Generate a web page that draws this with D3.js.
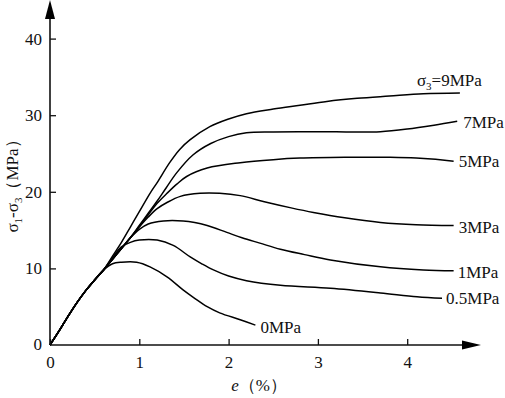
<!DOCTYPE html>
<html>
<head>
<meta charset="utf-8">
<script src="https://cdn.jsdelivr.net/npm/d3@7"></script>
<style>
  body { margin: 0; background: #fff; }
  text { font-family: "Liberation Serif", "Times New Roman", serif; fill: #111; }
</style>
</head>
<body>
<div id="chart"></div>
<script>
// strain e (%) vs deviator stress (MPa)
const xTicks = [0, 1, 2, 3, 4]
const yTicks = [0, 10, 20, 30, 40]

const rise = [[0,0],[0.1,1.8],[0.2,3.7],[0.3,5.5],[0.4,7.1],[0.5,8.5],[0.6,9.8]]

const s0 = [[0.7,10.6],[0.8,10.8],[0.97,10.8],[1.12,10.2],[1.31,8.9],[1.49,7.2],[1.62,6.1],[1.76,5.0],
  [1.9,4.2],[2.13,3.3],[2.3,2.6]]
const s05 = [[0.7,11.4],[0.8,12.8],[0.9,13.4],[1.0,13.7],[1.2,13.7],[1.38,13.0],[1.57,11.5],[1.7,10.6],
  [1.83,9.8],[2.0,9.0],[2.2,8.4],[2.58,7.8],[3.14,7.4],[3.7,6.8],[4.11,6.3],[4.39,6.1]]
const s1 = [[0.7,11.2],[0.8,12.6],[0.9,14.0],[1.0,15.1],[1.1,15.8],[1.27,16.2],[1.49,16.2],[1.62,16.0],
  [1.76,15.6],[1.98,14.7],[2.15,14.0],[2.35,13.3],[2.58,12.5],[2.85,11.8],[3.14,11.1],[3.7,10.2],
  [4.18,9.8],[4.52,9.7]]
const s3 = [[0.7,11.2],[0.8,12.6],[0.9,14.0],[1.0,15.4],[1.1,16.7],[1.2,17.8],[1.31,18.6],[1.46,19.4],
  [1.68,19.8],[1.9,19.8],[2.13,19.5],[2.4,18.7],[2.7,17.9],[2.95,17.3],[3.3,16.6],[3.7,16.0],
  [4.1,15.7],[4.52,15.6]]
const s5 = [[0.7,11.2],[0.8,12.6],[0.9,14.0],[1.0,15.5],[1.1,17.0],[1.2,18.5],[1.31,19.8],[1.42,21.0],
  [1.53,22.0],[1.76,23.1],[2.13,23.8],[2.5,24.2],[2.8,24.4],[3.3,24.5],[3.8,24.5],[4.1,24.4],[4.52,24.0]]
const s7 = [[0.7,11.2],[0.8,12.6],[0.9,14.0],[1.0,15.6],[1.1,17.2],[1.2,18.8],[1.3,20.5],[1.42,22.5],
  [1.6,24.8],[1.8,26.3],[2.0,27.2],[2.2,27.7],[2.5,27.8],[3.0,27.85],[3.4,27.8],[3.7,27.85],[4.0,28.2],
  [4.3,28.7],[4.56,29.2]]
const s9 = [[0.7,11.6],[0.8,13.4],[0.9,15.4],[1.0,17.4],[1.12,19.8],[1.2,21.2],[1.34,23.8],[1.45,25.5],
  [1.57,26.8],[1.79,28.5],[2.0,29.5],[2.2,30.2],[2.5,30.8],[2.8,31.3],[3.1,31.8],[3.44,32.2],[3.8,32.5],
  [4.18,32.8],[4.59,32.9]]

const curves = [s0, s05, s1, s3, s5, s7, s9]
const curveLabels = ["0MPa", "0.5MPa", "1MPa", "3MPa", "5MPa", "7MPa", "=9MPa"]
// label nudge from the curve end, in px
const labelNudge = [[5,8],[4,6],[4,7],[5,7],[5,6],[6,7],[-43,-7]]

drawChart("#chart")

function drawChart(id){
  const canvas = createCanvas()
  const svg = addSvg(id, canvas)
  const sc = addScales(canvas)
  addCurves(svg, sc)
  addAxes(svg, sc, canvas)
  addCurveLabels(svg, sc)
  addAxisLabels(svg)
}

function createCanvas(){
  return { width: 505, height: 398, x0: 50, x4: 407.2, y0: 345, y40: 38.6, xEnd: 481, yEnd: 0 }
}

function addSvg(id, canvas){
  return d3.select(id).append("svg")
    .attr("width", canvas.width).attr("height", canvas.height)
}

function addScales(canvas){
  const xScale = d3.scaleLinear().domain([0, 4]).range([canvas.x0, canvas.x4])
  const yScale = d3.scaleLinear().domain([0, 40]).range([canvas.y0, canvas.y40])
  return { xScale, yScale }
}

function addAxes(svg, sc, canvas){
  const xAxis = svg.append("g").attr("transform", `translate(0,${canvas.y0})`)
    .call(d3.axisBottom(sc.xScale).tickValues(xTicks).tickFormat(d3.format("d"))
      .tickSize(-6).tickSizeOuter(0).tickPadding(11))
  const yAxis = svg.append("g").attr("transform", `translate(${canvas.x0},0)`)
    .call(d3.axisLeft(sc.yScale).tickValues(yTicks.slice(1)).tickFormat(d3.format("d"))
      .tickSize(-6).tickSizeOuter(0).tickPadding(8))

  for (const g of [xAxis, yAxis]) {
    g.select(".domain").remove()
    g.selectAll("line").attr("stroke", "#111").attr("stroke-width", 1.3)
    g.selectAll("text").attr("font-size", "17px").attr("fill", "#111")
  }

  // y zero label sits beside the origin
  svg.append("text").attr("x", canvas.x0 - 8).attr("y", canvas.y0).attr("dy", "0.32em")
    .attr("text-anchor", "end").attr("font-size", "17px").text(yTicks[0])

  svg.append("line").attr("x1", canvas.x0).attr("x2", canvas.xEnd - 14)
    .attr("y1", canvas.y0).attr("y2", canvas.y0).attr("stroke", "#111").attr("stroke-width", 1.6)
  svg.append("line").attr("x1", canvas.x0).attr("x2", canvas.x0)
    .attr("y1", canvas.y0).attr("y2", canvas.yEnd + 14).attr("stroke", "#111").attr("stroke-width", 1.6)

  svg.append("path").attr("fill", "#000")
    .attr("d", `M${canvas.xEnd},${canvas.y0} L${canvas.xEnd - 19},${canvas.y0 - 4.5} L${canvas.xEnd - 19},${canvas.y0 + 4.5}Z`)
  svg.append("path").attr("fill", "#000")
    .attr("d", `M${canvas.x0},${canvas.yEnd} L${canvas.x0 - 5},${canvas.yEnd + 19} L${canvas.x0 + 5},${canvas.yEnd + 19}Z`)
}

function addCurves(svg, sc){
  const line = d3.line().x(d => sc.xScale(d[0])).y(d => sc.yScale(d[1])).curve(d3.curveCatmullRom.alpha(0.5))
  svg.selectAll("path.curve").data(curves).enter()
    .append("path").attr("class", "curve")
    .attr("fill", "none").attr("stroke", "#000").attr("stroke-width", 1.5)
    .attr("stroke-linejoin", "round")
    .attr("d", d => line(rise.concat(d)))
}

function addCurveLabels(svg, sc){
  curves.forEach((c, i) => {
    const last = c[c.length - 1]
    const t = svg.append("text")
      .attr("x", sc.xScale(last[0]) + labelNudge[i][0])
      .attr("y", sc.yScale(last[1]) + labelNudge[i][1])
      .attr("font-size", "17px")
    if (i === curves.length - 1) {
      t.append("tspan").text("σ")
      t.append("tspan").attr("font-size", "11px").attr("dy", 4).text("3")
      t.append("tspan").attr("dy", -4).text(curveLabels[i])
    } else {
      t.text(curveLabels[i])
    }
  })
}

function addAxisLabels(svg){
  const yl = svg.append("text").attr("transform", "translate(18,182) rotate(-90)")
    .attr("text-anchor", "middle").attr("font-size", "17px")
  yl.append("tspan").text("σ")
  yl.append("tspan").attr("font-size", "11px").attr("dy", 4).text("1")
  yl.append("tspan").attr("dy", -4).text("-σ")
  yl.append("tspan").attr("font-size", "11px").attr("dy", 4).text("3")
  yl.append("tspan").attr("dy", -4).text("（MPa）")

  const xl = svg.append("text").attr("x", 259).attr("y", 391)
    .attr("text-anchor", "middle").attr("font-size", "17px")
  xl.append("tspan").attr("font-style", "italic").text("e")
  xl.append("tspan").text("（%）")
}
</script>
</body>
</html>
